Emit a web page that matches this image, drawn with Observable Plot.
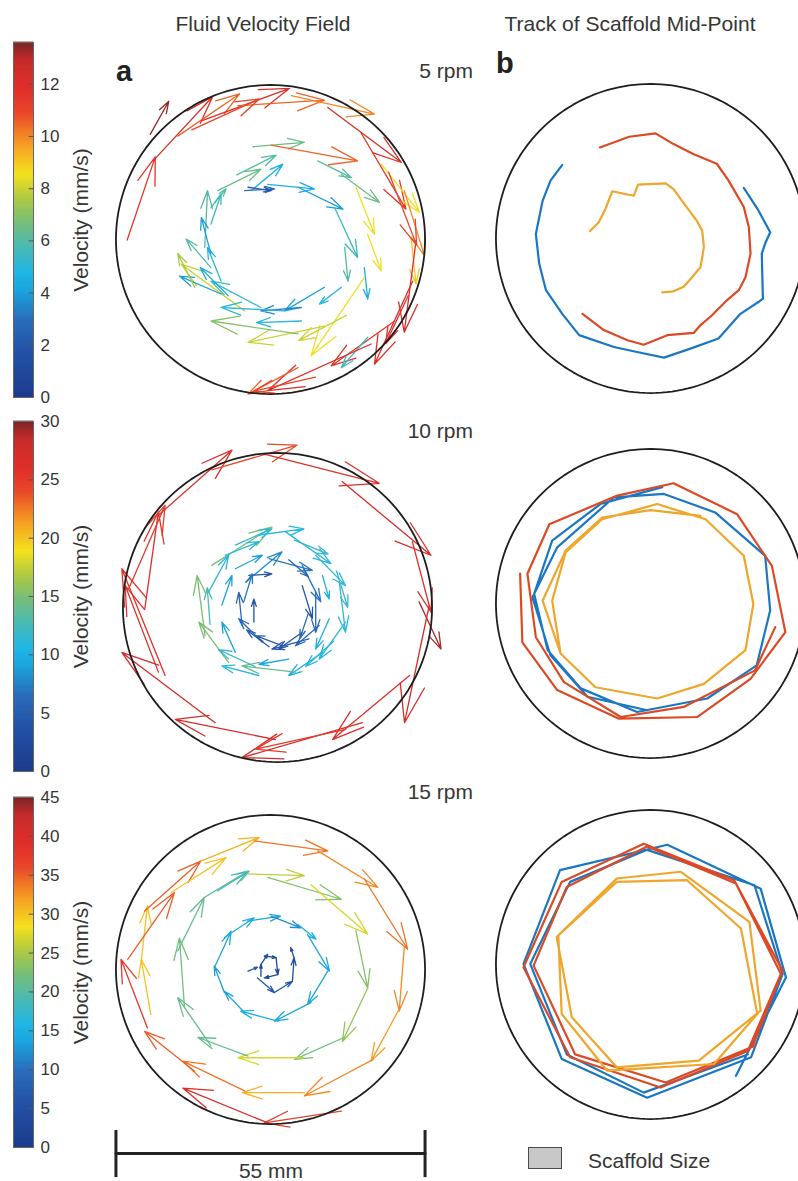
<!DOCTYPE html>
<html><head><meta charset="utf-8">
<script src="https://cdn.jsdelivr.net/npm/d3@7"></script>
<script src="https://cdn.jsdelivr.net/npm/@observablehq/plot@0.6"></script>
<style>
html,body{margin:0;padding:0;background:#fff;}
#fig{position:relative;width:798px;height:1181px;overflow:hidden;background:#fff;font-family:"Liberation Sans",Arial,Helvetica,sans-serif;color:#363636;}
#fig > *{position:absolute;}
.t{font-size:21px;line-height:21px;white-space:nowrap;}
.lab{font-size:29px;line-height:29px;font-weight:bold;color:#222;}
</style></head><body><div id="fig"></div>
<script>
// ---------------- data ----------------
const dishDiameter = 55;      // mm
const scaleBarLength = 55;    // mm
const panelTitles = ["Fluid Velocity Field", "Track of Scaffold Mid-Point"];
const rpmLabels = ["5 rpm", "10 rpm", "15 rpm"];
const velocityMax = [13.6, 30, 45];
const velocityTicks = [[0,2,4,6,8,10,12],[0,5,10,15,20,25,30],[0,5,10,15,20,25,30,35,40,45]];
const legendLabel = "Scaffold Size";

// arrows: [x tail, y tail, x tip, y tip, velocity mm/s]  (mm, dish centre = 0,0)
const arrows5 = [
 [-25.5,-0.1,-20.5,14.7,11.5],[-21.4,18.7,-18.1,24.6,13.3],[-20.9,14.0,-10.3,25.4,12],
 [-16.5,18.4,-5.5,25.9,10.5],[-12.3,21.1,3.4,26.9,12],[-5.8,23.8,9.6,24.8,10.5],
 [3.7,25.6,18.5,22.3,10],[10.2,23.5,23.3,13.7,12],[16.1,19.0,24.1,5.4,11.5],
 [19.7,13.4,26.5,4.8,8.5],[23.8,8.7,27.4,-2.9,10],[25.0,0.4,25.9,-7.9,9],
 [25.9,-0.2,23.8,-16.5,12],[25.3,-7.4,18.5,-22.2,12],[22.1,-14.5,10.8,-22.5,11.5],
 [17.3,-17.4,12.6,-22.8,5.5],[17.9,-18.6,-0.5,-26.9,12],[4.9,-22.8,-4.0,-27.5,10.5],
 [-14.0,19.5,-2.0,25.0,11],[21.0,12.0,26.0,-1.0,11],[24.5,-10.0,20.5,-18.5,12],
 [8.0,-24.5,-3.0,-27.0,11],
 [-3.1,16.5,6.0,17.3,6.5],[0.1,16.8,15.5,14.0,10.5],[8.4,14.0,14.4,11.0,6],
 [12.6,11.6,19.4,6.6,6.5],[15.2,9.3,18.5,0.9,8.5],[17.3,0.9,19.7,-5.6,8.5],
 [16.7,-5.0,17.3,-10.6,4.5],[16.7,-6.8,7.2,-20.7,8.5],[9.6,-15.4,-4.0,-18.3,8],
 [4.9,-16.8,-10.6,-14.5,7],[-4.6,-12.7,-15.9,-4.4,8],[-8.8,-9.7,-16.2,-6.5,4],
 [-10.6,-5.0,-15.0,0.1,6],[-11.7,-1.4,-11.2,8.7,6],[-10.6,5.7,-7.9,9.0,6],
 [-9.4,8.7,-1.7,12.5,6.5],[-3.4,8.7,2.2,13.4,4.5],
 [-13.5,-8.5,-16.5,-2.5,7.5],[13.5,-13.5,5.0,-18.0,8],[-6.0,11.5,1.0,15.0,6],
 [5.5,-14.5,-2.5,-14.8,5],
 [-4.6,8.7,0.7,9.0,3],[-0.5,9.8,7.8,9.0,4.5],[4.9,9.3,12.9,5.4,4],
 [11.4,5.7,15.5,-3.2,5.5],[13.2,-1.4,13.8,-7.4,6],[12.6,-8.5,8.7,-11.5,5],
 [9.6,-8.5,2.5,-12.7,4],[5.5,-12.1,-1.7,-12.7,3.5],[2.5,-12.7,-8.8,-12.1,5],
 [-1.7,-12.1,-10.6,-7.4,5.5],[-8.8,-7.4,-11.2,-1.4,5],[-10.6,-2.6,-12.3,3.9,4],
 [-10.6,2.7,-8.8,8.1,5.5],[-4.0,9.3,0.1,8.7,2],[-7.5,-10.0,-12.5,-5.0,4.5]
];
const arrows10 = [
 [-21.2,16.4,-8.1,28.0,26],[-11.7,24.5,3.5,28.9,24],[-2.7,27.4,18.1,22.1,26],
 [11.5,22.4,27.3,9.3,27],[24.0,11.7,27.3,-0.8,26],[25.2,1.0,29.1,-7.4,29],
 [27.0,0.4,22.6,-20.5,27],[23.5,-12.1,9.8,-23.5,26],[15.1,-20.5,-6.3,-26.7,27],
 [12.1,-21.7,-3.9,-25.2,25],[-0.4,-23.5,-18.2,-19.9,27],[-11.1,-20.5,-27.7,-8.0,27],
 [-21.2,-11.5,-27.1,3.9,26],[-20.0,-12.1,-27.7,6.9,26],[-23.6,-0.2,-21.2,17.0,26],
 [-26.5,3.3,-20.0,18.2,25],
 [-11.7,7.5,-1.0,14.3,15],[-3.3,12.9,4.7,14.0,11],[1.4,13.5,9.5,7.8,11],
 [6.8,9.3,12.1,3.9,11.5],[11.0,4.5,12.1,-4.4,11],[12.1,-2.6,7.4,-9.2,11],
 [8.0,-8.0,2.0,-12.1,10],[3.2,-11.5,-6.3,-10.4,14],[-3.3,-12.1,-9.9,-10.4,11],
 [-8.7,-9.8,-14.0,-2.6,15],[-12.9,-5.0,-14.3,5.7,15],[-12.3,2.7,-8.7,9.3,11],
 [-7.5,11.1,-1.0,14.0,11],
 [-9.3,9.3,-3.3,11.7,11],[3.0,12.0,9.0,9.5,12],[10.5,6.5,12.5,0.0,12],
 [10.0,-6.0,5.0,-10.5,11],[-4.0,-10.5,-10.5,-7.5,12],[-12.0,-3.0,-12.5,3.5,13],
 [-9.9,0.4,-8.1,5.7,9],[-7.5,6.9,-2.7,9.3,9],[8.0,5.7,9.2,1.5,10],
 [9.2,-2.0,6.8,-7.4,10],[2.0,-9.2,-3.3,-10.1,9],[-7.5,-8.0,-9.9,-2.6,9],
 [-5.7,4.5,0.8,9.9,8],[-1.5,8.7,6.2,6.6,7],[4.4,7.5,7.7,1.0,7],
 [6.8,2.7,6.8,-4.4,6],[7.4,-3.2,3.2,-6.8,6],[5.6,-5.6,-1.0,-7.4,5],
 [0.8,-6.8,-3.9,-5.0,5],[-2.7,-6.2,-6.9,-2.0,6],[-6.3,-3.2,-6.9,2.7,6],
 [-5.1,5.7,-1.0,6.0,4],[4.4,3.9,6.2,-2.0,4],[-4.2,-2.6,-4.2,1.5,3.5],
 [4.4,-4.4,0.2,-7.4,4],
 [-6.0,1.0,-4.5,6.0,7],[2.0,8.5,5.5,5.5,6],[5.5,-1.0,4.0,-5.5,6],[-1.5,-7.0,-5.5,-4.0,5]
];
const arrows15 = [
 [12.6,-25.2,-1.1,-27.3,37],[-0.5,-27.3,-15.6,-21.1,40],[6.0,-21.9,-5.0,-21.9,31],
 [22.7,-7.4,17.9,-16.3,32],[18.3,-16.0,6.0,-22.5,33],[-4.6,-21.6,-15.6,-16.3,34],
 [-13.5,-18.1,-22.4,-11.0,35],[-21.9,-10.4,-26.6,1.8,38],[-21.3,-8.0,-23.0,1.8,30],
 [-23.0,1.5,-21.9,11.3,30],[-25.4,1.8,-17.1,13.7,35],[-22.4,10.4,-12.4,19.3,35],
 [-17.7,13.7,-7.9,19.9,30],[-12.4,19.3,-2.0,23.5,31],[-2.9,22.9,10.2,21.1,34],
 [8.4,21.1,19.1,14.6,33],[16.7,16.1,24.4,3.6,34],[23.8,3.9,22.9,-7.4,33],
 [-11.8,12.8,-4.0,17.5,20],[-4.0,17.0,6.0,16.7,26],[-0.5,16.4,12.6,12.5,23],
 [7.2,15.1,17.3,6.3,27],[15.2,6.9,17.3,-3.3,23],[17.3,-3.3,12.8,-12.8,24],
 [13.1,-12.1,4.3,-16.0,22],[6.0,-15.7,-5.8,-15.7,27],[-4.0,-15.4,-12.9,-12.1,21],
 [-10.6,-13.6,-16.5,-5.0,21],[-15.3,-6.8,-16.2,5.6,22],[-16.5,3.3,-11.8,12.8,21],
 [-9.4,14.0,-3.8,17.5,19],
 [-10.0,0.3,-7.0,6.8,14],[-8.2,5.7,-2.9,9.2,15],[-4.1,8.6,1.8,9.5,14],
 [0.1,9.5,5.4,7.4,12],[4.9,8.0,8.1,5.4,15],[6.6,6.2,10.5,-0.3,14],
 [10.2,-0.3,6.6,-6.2,14],[7.2,-5.9,0.7,-9.2,14],[1.3,-9.2,-5.3,-7.4,15],
 [-4.6,-7.7,-8.2,-3.9,14],[-8.2,-4.1,-10.0,0.6,13],
 [-4.0,-0.3,-2.3,0.4,6],[-2.3,-1.5,0.7,-4.1,7],[0.7,-4.1,3.9,-2.1,6],
 [3.9,-2.1,4.2,2.1,5],[4.2,2.1,3.6,3.9,5],[-1.1,2.4,1.0,2.1,4],
 [1.0,2.1,1.3,-0.9,3],[1.3,-0.9,-1.1,-1.5,3],[-1.7,-1.2,-1.7,0.9,3],
 [-1.7,0.9,-0.5,2.7,5]
];

// scaffold mid-point tracks: [x, y] in mm
const track5Red = [[-9.0,16.2],[-3.8,18.1],[0.9,18.7],[4.1,16.8],[7.7,15.0],[11.8,13.3],[13.9,10.3],[16.6,5.6],[17.5,2.0],[17.8,-2.7],[16.9,-6.9],[15.7,-9.2],[13.6,-11.0],[10.9,-13.7],[8.9,-15.4],[7.7,-16.8],[3.0,-17.2],[-1.2,-18.9],[-4.1,-18.1],[-8.3,-16.3],[-12.1,-13.4]];
const track5Blue = [[-15.7,13.1],[-17.8,10.3],[-19.2,6.7],[-20.4,0.8],[-19.8,-4.5],[-18.6,-9.2],[-15.7,-13.4],[-12.7,-17.2],[-6.5,-19.3],[-2.4,-20.2],[2.4,-21.2],[7.1,-19.6],[12.1,-17.8],[16.0,-13.4],[19.2,-11.3],[20.0,-10.7],[19.8,-2.7],[20.4,-0.9],[21.3,1.1],[19.2,5.0],[16.6,9.0]];
const track5Orange = [[-10.8,1.3],[-9.2,2.9],[-8.0,5.3],[-6.8,8.4],[-3.0,7.6],[-2.2,9.6],[2.7,9.8],[4.1,8.8],[5.6,6.7],[7.1,4.7],[8.2,3.2],[9.2,1.4],[9.5,-1.5],[8.9,-5.1],[7.4,-6.9],[5.9,-8.6],[4.1,-9.4],[2.1,-9.6]];
const track10Red = [[-23.2,5.3],[-22.8,-6.9],[-16.6,-15.4],[-5.6,-20.5],[8.3,-20.2],[17.8,-13.4],[24.0,-5.1],[21.6,6.7],[15.4,15.9],[4.1,21.4],[-5.9,19.2],[-18.0,14.1],[-21.9,5.3],[-20.4,-6.0],[-15.4,-14.0],[-5.3,-20.2],[5.9,-18.4],[18.6,-11.9],[22.2,-4.2]];
const track10Blue = [[2.1,20.7],[-8.9,17.7],[-17.5,11.2],[-20.7,1.7],[-18.3,-8.3],[-12.4,-15.1],[-2.4,-19.3],[10.1,-16.9],[18.9,-11.0],[21.3,-1.2],[20.4,8.5],[11.5,16.2],[2.4,19.5],[-6.5,18.9],[-16.6,10.0],[-21.0,1.1],[-17.8,-9.2],[-11.2,-16.6],[-0.6,-19.0]];
const track10Orange = [[-16.0,-8.9],[-17.5,0.5],[-15.1,9.1],[-8.6,15.0],[1.2,17.7],[9.8,15.0],[16.6,8.5],[18.3,-0.1],[16.9,-8.3],[9.5,-14.3],[1.2,-16.9],[-9.8,-14.9],[-16.0,-8.9],[-19.2,0.5],[-15.1,9.4],[-8.6,15.3],[0.0,16.6],[8.9,15.6]];
const track15Blue = [[15.2,-19.8],[24.1,-2.3],[19.6,13.5],[3.0,21.3],[-16.1,16.8],[-22.6,0.1],[-15.8,-16.8],[-0.6,-23.7],[17.9,-16.5],[23.5,-1.7],[18.5,14.1],[-0.6,20.4],[-14.3,14.7],[-21.4,0.1],[-14.9,-16.0],[-1.2,-22.8],[17.3,-16.0]];
const track15Red = [[18.2,-14.5],[23.5,-1.1],[14.9,15.0],[-1.2,21.5],[-15.8,14.7],[-22.6,-0.5],[-14.3,-16.5],[1.8,-21.9],[17.3,-15.4],[23.2,-1.7],[15.2,14.4],[-0.6,21.0],[-14.9,13.8],[-20.8,-0.2],[-13.4,-16.0],[2.7,-21.0],[18.5,-14.5]];
const track15Orange = [[-16.4,5.2],[-6.0,15.3],[5.4,16.5],[17.6,7.6],[19.6,-8.2],[8.6,-17.1],[-6.0,-18.3],[-14.0,-9.4],[-16.7,4.9],[-6.0,14.7],[6.5,15.0],[16.1,6.4],[19.0,-8.8],[11.3,-17.7],[-7.7,-18.9],[-15.8,-8.8],[-16.4,5.2]];

// ---------------- styling / helpers ----------------
const FONT = '"Liberation Sans", Arial, Helvetica, sans-serif';
const jetStops  = [0, 0.12, 0.22, 0.30, 0.35, 0.43, 0.50, 0.57, 0.63, 0.70, 0.75, 0.80, 0.86, 0.95, 1];
const jetColors = ["#1c3b8c","#2250a6","#2a6dbb","#1aa3dd","#1fb6e6","#4dbab0","#7bbf73","#b7cc3d","#f4e11e","#f7a823","#f17a26","#e9482a","#e2302a","#c62a2a","#7a2626"];
const jet = d3.scaleLinear().domain(jetStops).range(jetColors).interpolate(d3.interpolateRgb).clamp(true);
const COL = {blue: "#1b77c2", red: "#dc4a25", orange: "#efa62a"};

const PX_PER_MM = 5.62;
const PANEL = 340;
const half = PANEL / 2 / PX_PER_MM;
const R = dishDiameter / 2;
const dish = d3.range(0, 361, 2).map(a => [R * Math.cos(a * Math.PI / 180), R * Math.sin(a * Math.PI / 180)]);
const fig = document.getElementById("fig");

function place(el, left, top) { el.style.position = "absolute"; el.style.left = left + "px"; el.style.top = top + "px"; fig.appendChild(el); return el; }
function text(str, cls, left, top, extra = {}) {
  const d = document.createElement("div"); d.className = cls; d.textContent = str;
  Object.assign(d.style, extra); return place(d, left, top);
}
const dishMark = () => Plot.line(dish, {x: d => d[0], y: d => d[1], stroke: "#1e1e1e", strokeWidth: 1.8});

function field(arrows, vmax) {
  return Plot.plot({
    width: PANEL, height: PANEL, margin: 0,
    x: {domain: [-half, half], axis: null}, y: {domain: [-half, half], axis: null},
    color: {type: "linear", domain: [0, vmax], interpolate: jet},
    style: {background: "transparent", overflow: "visible"},
    marks: [
      Plot.arrow(arrows, {x1: d => d[0], y1: d => d[1], x2: d => d[2], y2: d => d[3], stroke: d => d[4], strokeWidth: 1.3, headAngle: 36, headLength: 60}),
      dishMark()
    ]
  });
}
function trackPanel(list) {
  return Plot.plot({
    width: PANEL, height: PANEL, margin: 0,
    x: {domain: [-half, half], axis: null}, y: {domain: [-half, half], axis: null},
    style: {background: "transparent", overflow: "visible"},
    marks: [
      ...list.map(([pts, c]) => Plot.line(pts, {x: d => d[0], y: d => d[1], stroke: c, strokeWidth: 2.2, strokeLinejoin: "round"})),
      dishMark()
    ]
  });
}
function colorbar(vmax, ticks, barH) {
  const n = 175, step = vmax / n;
  const bands = d3.range(n).map(i => ({lo: i * step, hi: (i + 1) * step}));
  return Plot.plot({
    width: 100, height: barH + 20, marginLeft: 0, marginRight: 80, marginTop: 10, marginBottom: 10,
    x: {domain: [0, 1], axis: null},
    y: {domain: [0, vmax], axis: "right", ticks, tickSize: 0, tickPadding: 7, tickFormat: d => String(d), label: null},
    color: {type: "linear", domain: [0, vmax], interpolate: jet},
    style: {fontSize: "17px", fontFamily: FONT, color: "#363636", background: "transparent", overflow: "visible"},
    marks: [
      Plot.rect(bands, {x1: 0, x2: 1, y1: "lo", y2: "hi", fill: d => (d.lo + d.hi) / 2, insetTop: -0.4, insetBottom: -0.4}),
      Plot.ruleY(ticks, {x1: 0.78, x2: 1, stroke: "#555", strokeWidth: 1}),
      Plot.frame({stroke: "#666", strokeWidth: 1}),
      Plot.text(["Velocity (mm/s)"], {text: d => d, frameAnchor: "right", dx: 48, rotate: -90, fontSize: 21, fill: "#363636", textAnchor: "middle", lineAnchor: "middle"})
    ]
  });
}

// ---------------- layout ----------------
text(panelTitles[0], "t", 163, 13, {width: "200px", textAlign: "center"});
text(panelTitles[1], "t", 480, 13, {width: "300px", textAlign: "center"});
text("a", "lab", 116, 56.5);
text("b", "lab", 496, 48.5);
text(rpmLabels[0], "t", 273, 60, {width: "200px", textAlign: "right"});
text(rpmLabels[1], "t", 273, 420, {width: "200px", textAlign: "right"});
text(rpmLabels[2], "t", 273, 781, {width: "200px", textAlign: "right"});

place(colorbar(velocityMax[0], velocityTicks[0], 355), 13, 32);
place(colorbar(velocityMax[1], velocityTicks[1], 350), 13, 411);
place(colorbar(velocityMax[2], velocityTicks[2], 350), 13, 787);

place(field(arrows5, velocityMax[0]), 99.5, 68.5);
place(field(arrows10, velocityMax[1]), 107, 437);
place(field(arrows15, velocityMax[2]), 99.5, 798.5);

place(trackPanel([[track5Blue, COL.blue], [track5Red, COL.red], [track5Orange, COL.orange]]), 480, 68);
place(trackPanel([[track10Blue, COL.blue], [track10Red, COL.red], [track10Orange, COL.orange]]), 480, 433);
place(trackPanel([[track15Blue, COL.blue], [track15Red, COL.red], [track15Orange, COL.orange]]), 480, 794);

// scale bar
const barEnds = [-scaleBarLength / 2, scaleBarLength / 2];
place(Plot.plot({
  width: PANEL, height: 56, margin: 0,
  x: {domain: [-half, half], axis: null}, y: {domain: [0, 1], axis: null},
  style: {background: "transparent", overflow: "visible"},
  marks: [
    Plot.line(barEnds, {x: d => d, y: () => 0.5, stroke: "#222", strokeWidth: 3}),
    Plot.ruleX(barEnds, {x: d => d, y1: 0.07, y2: 0.91, stroke: "#222", strokeWidth: 3})
  ]
}), 99.5, 1125);
text(scaleBarLength + " mm", "t", 171, 1160, {width: "200px", textAlign: "center"});

// legend
const box = document.createElement("div");
Object.assign(box.style, {width: "34px", height: "22px", boxSizing: "border-box", border: "1.5px solid #4a4a4a", background: "#c8c8c8"});
place(box, 528, 1147);
text(legendLabel, "t", 588, 1150);
</script></body></html>
